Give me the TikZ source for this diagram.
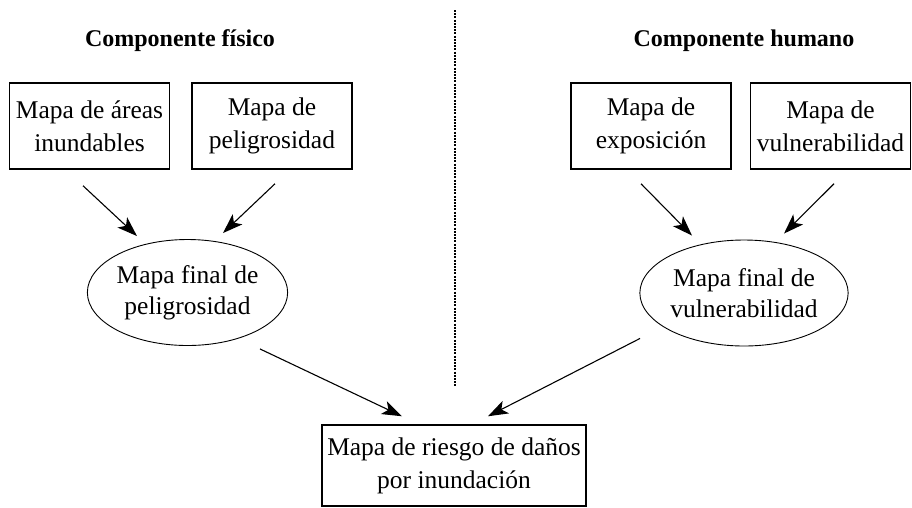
\documentclass[tikz,border=0pt]{standalone}
\usepackage{fontspec}
\setmainfont{Liberation Serif}
\usetikzlibrary{calc, arrows.meta, shapes.geometric}

\tikzset{
  mapbox/.style={draw, line width=1.5pt, minimum width=160pt, minimum height=86pt,
    align=center, inner sep=2pt, font=\fontsize{25.5}{33}\selectfont},
  finalmap/.style={ellipse, draw, line width=0.9pt, minimum width=192pt, minimum height=106pt,
    align=center, inner sep=0pt, font=\fontsize{25.5}{31}\selectfont},
  compname/.style={font=\bfseries\fontsize{24}{28}\selectfont},
  flow/.style={line width=1.1pt, -{Stealth[length=20pt,width=14pt,inset=5pt]}},
  divline/.style={line width=1.2pt, dash pattern=on 2pt off 1.2pt},
}

\begin{document}
\begin{tikzpicture}[x=1pt, y=-1pt]
        \useasboundingbox (0,0) rectangle (912,507);

        \node[compname] (fis) at (180,41) {Componente físico};
        \node[compname] (hum) at (744,41) {Componente humano};

        \node[mapbox] (areas) at (89.5,126) {Mapa de áreas\\inundables};
        \node[mapbox] (pelig) at (272,126) {Mapa de\\peligrosidad};
        \node[mapbox] (expo) at (651,126) {Mapa de\\exposición};
        \node[mapbox] (vuln) at (830.5,126) {Mapa de\\vulnerabilidad};

        \node[finalmap] (fpel) at (187.5,292.5) {Mapa final de\\peligrosidad};
        \node[finalmap] (fvul) at (744,293) {Mapa final de\\vulnerabilidad};

        \node[mapbox, minimum width=264pt, minimum height=81pt] (riesgo) at (454,465.5)
            {Mapa de riesgo de daños\\por inundación};

        \coordinate (D1) at (455,10);
        \coordinate (D2) at (455,387);
        \draw[divline] (D1) -- (D2);

        \draw[flow] ($(areas.south)+(-6.5,16)$) -- ($(fpel.north)+(-50.5,-3)$);
        \draw[flow] ($(pelig.south)+(3,14)$) -- ($(fpel.north)+(35.5,-6)$);
        \draw[flow] ($(expo.south)+(-10,14)$) -- ($(fvul.north)+(-52,-4)$);
        \draw[flow] ($(vuln.south)+(3.5,14)$) -- ($(fvul.north)+(40,-6)$);

        \draw[flow] ($(fpel.south)+(72.5,3)$) -- ($(riesgo.north)+(-52,-8)$);
        \draw[flow] ($(fvul.south)+(-104,-8)$) -- ($(riesgo.north)+(34,-8)$);
    \end{tikzpicture}
\end{document}
